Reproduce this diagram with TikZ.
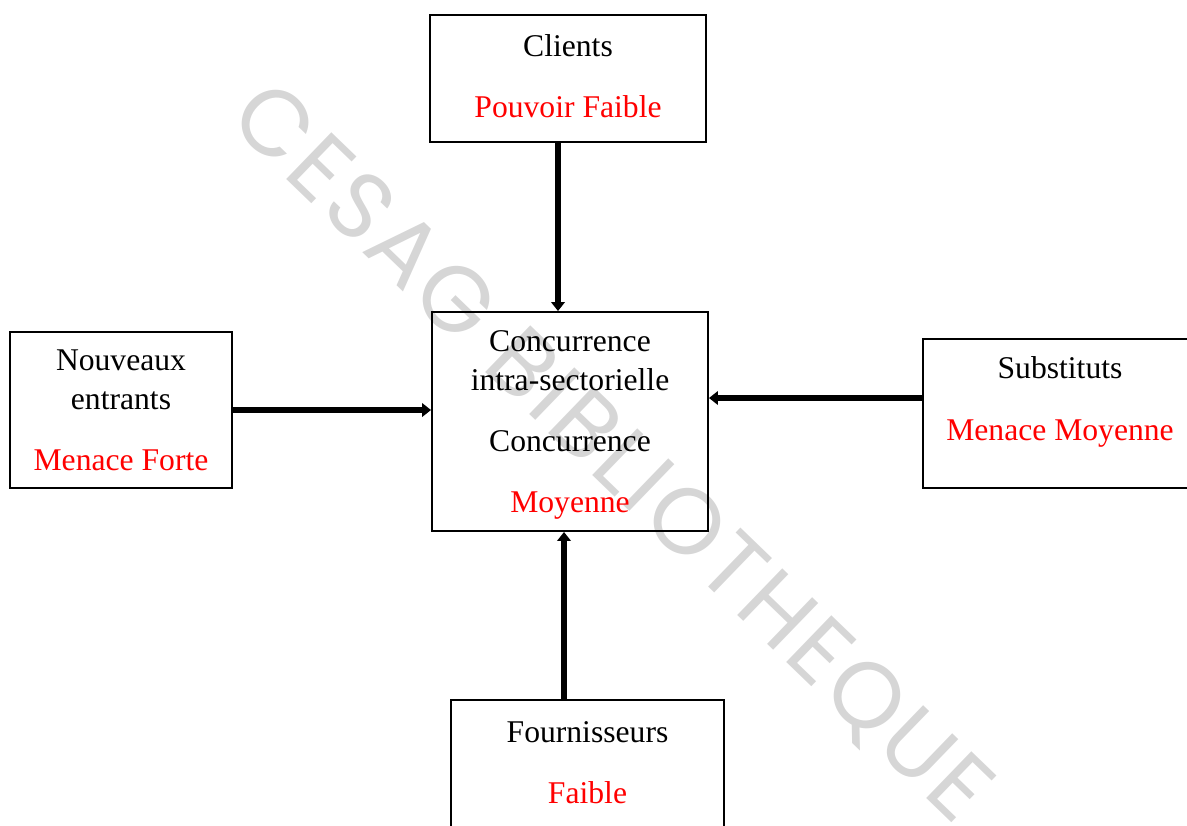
\documentclass[tikz,border=0pt]{standalone}
\usepackage{fontspec}
\setmainfont{Liberation Serif}
\newfontfamily\wmfont[LetterSpace=4]{Poppins}
\usepackage{xcolor}
\usepackage{tikz}
\usetikzlibrary{arrows.meta, positioning, calc}
\definecolor{forcered}{HTML}{FF0000}
\definecolor{wmgray}{HTML}{D6D6D6}

\begin{document}
\begin{tikzpicture}[
    force/.style={
        draw,
        line width=1.1pt,
        align=center,
        inner sep=0pt,
        font=\fontsize{18}{22.5}\selectfont
    },
    arrow/.style={
        -{Triangle[length=0.18cm, width=0.27cm]},
        line width=0.12cm
    }
]

\clip (0,0) rectangle (23.74,-16.5);

% Watermark
\node[font=\wmfont\fontsize{53}{53}\selectfont, color=wmgray, rotate=-44] (wm) at (12.2,-9.1) {CESAG BIBLIOTHEQUE};

% Central box
\node[force, minimum width=5.52cm, minimum height=4.38cm, text depth=0pt] (conc) at (11.4,-8.43) {
    Concurrence\\
    intra-sectorielle\\[12pt]
    Concurrence\\[12.5pt]
    \textcolor{forcered}{Moyenne}
};

% Clients
\node[force, minimum width=5.52cm, minimum height=2.54cm, text depth=0.1cm] (clients) at (11.36,-1.57) {
    Clients\\[12pt]
    \textcolor{forcered}{Pouvoir Faible}
};

% Nouveaux entrants
\node[force, minimum width=4.44cm, minimum height=3.12cm] (nouv) at (2.42,-8.2) {
    Nouveaux\\
    entrants\\[12pt]
    \textcolor{forcered}{Menace Forte}
};

% Substituts
\node[force, minimum width=5.48cm, minimum height=2.98cm, text depth=0.6cm] (subst) at (21.2,-8.27) {
    Substituts\\[12.5pt]
    \textcolor{forcered}{Menace Moyenne}
};

% Fournisseurs
\node[force, minimum width=5.46cm, minimum height=3.2cm, text depth=0.7cm] (fourn) at (11.75,-15.6) {
    Fournisseurs\\[12pt]
    \textcolor{forcered}{Faible}
};

% Arrows
\draw[arrow] ([xshift=-0.2cm]clients.south) -- ([xshift=-0.2cm]clients.south |- conc.north);
\draw[arrow] (nouv.east) -- (nouv.east -| conc.west);
\draw[arrow] ([yshift=0.31cm]subst.west) -- ([yshift=0.31cm]subst.west -| conc.east);
\draw[arrow] ([xshift=-0.47cm]fourn.north) -- ([xshift=-0.47cm]fourn.north |- conc.south);

\end{tikzpicture}
\end{document}
